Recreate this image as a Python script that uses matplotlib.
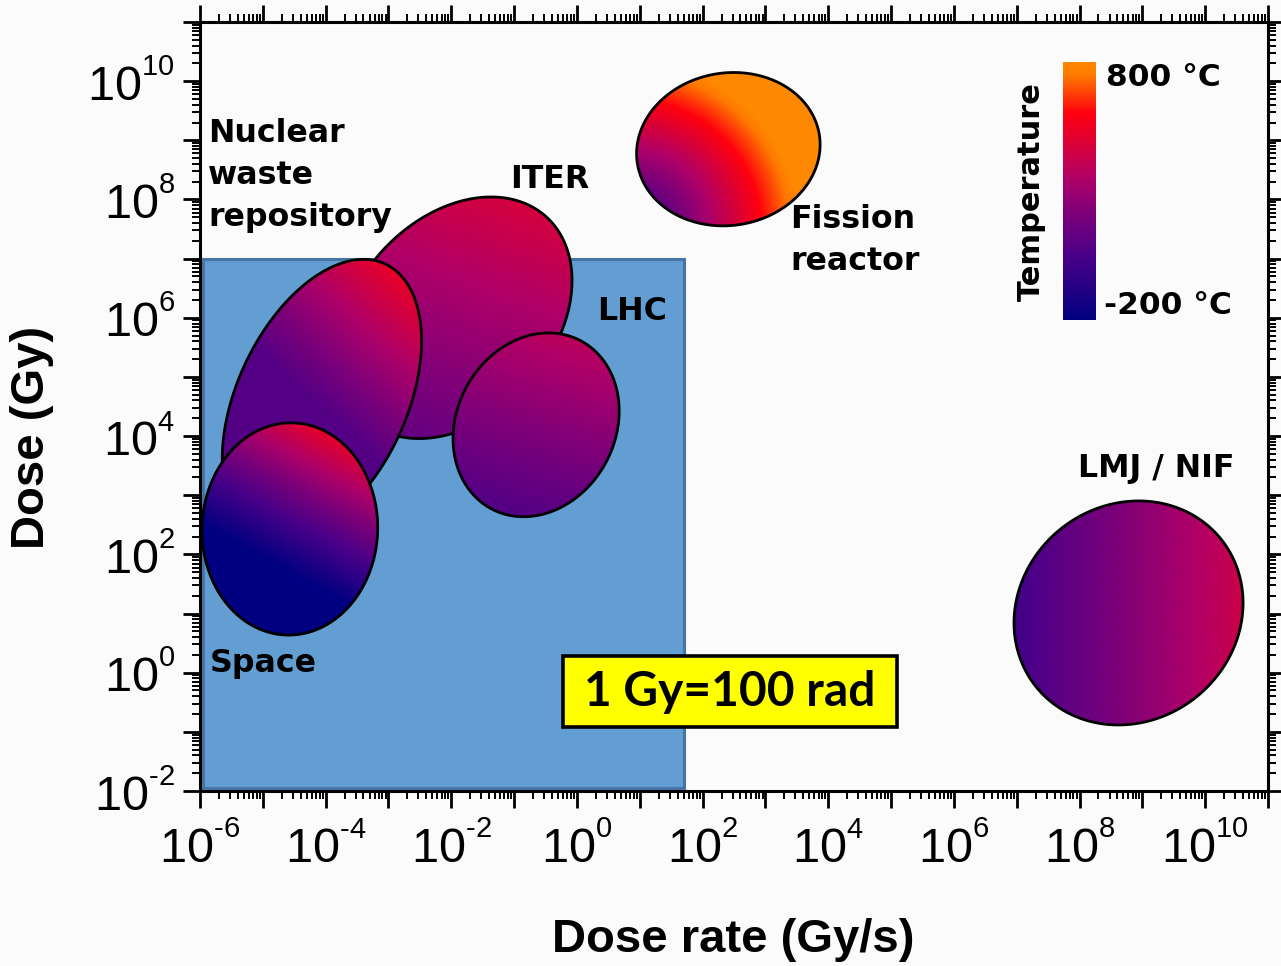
import numpy as np
import matplotlib
matplotlib.use("Agg")
import matplotlib.pyplot as plt
from matplotlib.colors import LinearSegmentedColormap, Normalize
from matplotlib.patches import Polygon, Rectangle
from matplotlib.ticker import FixedLocator, NullFormatter
import matplotlib.cm as cm

try:
    import matplotlib._mathtext as _mt
    _mt.SHRINK_FACTOR = 0.6
    _classes = [_mt.FontConstantsBase] + list(getattr(_mt, "_font_constant_mapping", {}).values())
    for _c in _classes:
        _c.sup1 = 0.95
except Exception:
    pass

# ---------------- data ----------------
facilities = ["ITER", "Nuclear waste repository", "LHC", "Space", "Fission reactor", "LMJ / NIF"]
log_rate_center = [-1.94, -4.06, -0.65, -4.57, 2.41, 8.78]   # log10 dose rate (Gy/s)
log_dose_center = [6.00, 4.61, 4.19, 2.43, 8.85, 1.01]       # log10 dose (Gy)
semi_major_dec = [2.23, 2.46, 1.56, 1.74, 1.51, 1.94]        # decades
semi_minor_dec = [1.62, 1.39, 1.30, 1.44, 1.25, 1.77]        # decades
tilt_deg = [48, 65, 62, 88, 9, 38]

shaded_rate = [1e-6, 50.0]
shaded_dose = [1e-2, 1e7]

temp_range = [-200, 800]
x_decades = [-6, -4, -2, 0, 2, 4, 6, 8, 10]
y_decades = [-2, 0, 2, 4, 6, 8, 10]

# --------------- styles ----------------
cmap = LinearSegmentedColormap.from_list("temp", [
    (0.00, "#000080"), (0.25, "#4a0088"), (0.42, "#800078"), (0.55, "#b00068"),
    (0.66, "#d20040"), (0.80, "#ff0010"), (0.95, "#ff7a00"), (1.00, "#ff8800")])

# gradient: t = t0 + gx*dx + gy*dy + gr*|p - focus|, clipped to [tmin, 1]
grad = [
    dict(t0=0.50, gx=0.00045, gy=0.0012, gr=0.0, f=(0, 0), tmin=0.0),   # ITER
    dict(t0=0.30, gx=0.0020, gy=0.0022, gr=0.0, f=(0, 0), tmin=0.28),   # Nuclear
    dict(t0=0.43, gx=0.0005, gy=0.0016, gr=0.0, f=(0, 0), tmin=0.0),    # LHC
    dict(t0=0.20, gx=0.0025, gy=0.0045, gr=0.0, f=(0, 0), tmin=0.0),    # Space
    dict(t0=0.12, gx=0.0, gy=0.0, gr=0.0052, f=(-98, -81), tmin=0.0),   # Fission
    dict(t0=0.43, gx=0.0018, gy=0.0, gr=0.0, f=(0, 0), tmin=0.0),       # LMJ
]
zorders = [2, 3, 3, 4, 3, 3]

W, H = 1281, 966
fig = plt.figure(figsize=(W / 100, H / 100), dpi=100, facecolor="#fbfbfb")
L, R, T, B = 200, 1268, 22, 791
ax = fig.add_axes([L / W, 1 - B / H, (R - L) / W, (B - T) / H])
ax.set_facecolor("#fbfbfb")
ax.set_xscale("log")
ax.set_yscale("log")
ax.set_xlim(1e-6, 1e11)
ax.set_ylim(1e-2, 1e11)

xpx = (R - L) / 17.0
ypx = (B - T) / 13.0
UNIT = 61.0  # px per decade used for the isotropic ellipse sizes

# shaded blue region
rect = Rectangle((shaded_rate[0] * 10 ** 0.05, shaded_dose[0] * 10 ** 0.05),
                 shaded_rate[1] - shaded_rate[0] * 10 ** 0.05,
                 shaded_dose[1] - shaded_dose[0] * 10 ** 0.05,
                 facecolor="#629ed2", edgecolor="#4676a6", lw=2.2, zorder=1)
ax.add_patch(rect)

tt = np.linspace(0, 2 * np.pi, 500)
for i in range(len(facilities)):
    cx, cy = log_rate_center[i], log_dose_center[i]
    a, b = semi_major_dec[i] * UNIT, semi_minor_dec[i] * UNIT
    th = np.deg2rad(tilt_deg[i])
    ox = a * np.cos(tt) * np.cos(th) - b * np.sin(tt) * np.sin(th)
    oy = a * np.cos(tt) * np.sin(th) + b * np.sin(tt) * np.cos(th)
    px_ = 10 ** (cx + ox / xpx)
    py_ = 10 ** (cy + oy / ypx)
    poly = Polygon(np.column_stack([px_, py_]), closed=True, facecolor="none",
                   edgecolor="black", lw=2.0, zorder=zorders[i] + 0.5)
    ax.add_patch(poly)
    ext = max(a, b) + 5
    gxs = np.linspace(-ext, ext, 240)
    gys = np.linspace(-ext, ext, 240)
    DX, DY = np.meshgrid(gxs, gys)
    g = grad[i]
    tval = g["t0"] + g["gx"] * DX + g["gy"] * DY + g["gr"] * np.hypot(DX - g["f"][0], DY - g["f"][1])
    tval = np.clip(tval, g["tmin"], 1.0)
    Xd = 10 ** (cx + gxs / xpx)
    Yd = 10 ** (cy + gys / ypx)
    mesh = ax.pcolormesh(Xd, Yd, tval, cmap=cmap, vmin=0, vmax=1, shading="gouraud",
                         zorder=zorders[i], rasterized=True)
    mesh.set_clip_path(poly)

# ticks
ax.xaxis.set_major_locator(FixedLocator([10.0 ** k for k in range(-6, 12)]))
ax.yaxis.set_major_locator(FixedLocator([10.0 ** k for k in range(-2, 12)]))
minor_x = [m * 10.0 ** k for k in range(-6, 11) for m in range(2, 10)]
minor_y = [m * 10.0 ** k for k in range(-2, 11) for m in range(2, 10)]
ax.xaxis.set_minor_locator(FixedLocator(minor_x))
ax.yaxis.set_minor_locator(FixedLocator(minor_y))
ax.xaxis.set_minor_formatter(NullFormatter())
ax.yaxis.set_minor_formatter(NullFormatter())

def fmt_labels(all_dec, shown):
    out = []
    for k in all_dec:
        if k in shown:
            e = str(k).replace("-", "\u2010")
            out.append(r"$\mathregular{10^{%s}}$" % e)
        else:
            out.append("")
    return out

ax.set_xticklabels(fmt_labels(range(-6, 12), x_decades))
ax.set_yticklabels(fmt_labels(range(-2, 12), y_decades))

for lab in ax.get_xticklabels() + ax.get_yticklabels():
    lab.set_fontfamily("Liberation Sans")
    lab.set_fontsize(35)

ax.tick_params(which="major", direction="out", length=12, width=2.0, top=True, right=True,
               labelsize=35, pad=6)
ax.tick_params(axis="x", which="major", pad=12)
ax.tick_params(which="minor", direction="out", length=6, width=1.4, top=True, right=True)
for s in ax.spines.values():
    s.set_linewidth(2.2)
    s.set_zorder(10)

ax.set_xlabel("Dose rate (Gy/s)", fontsize=34, fontweight="bold", family="Liberation Sans")
ax.set_ylabel("Dose (Gy)", fontsize=34, fontweight="bold", family="Liberation Sans")
ax.xaxis.set_label_coords((733 - L) / (R - L), (B - 918) / (B - T))
ax.yaxis.set_label_coords((54 - L) / (R - L), (B - 437) / (B - T))

lab_kw = dict(fontsize=22.8, fontweight="bold", family="DejaVu Sans", color="black", zorder=12)
ax.text(10 ** -5.87, 10 ** 8.40, "Nuclear\nwaste\nrepository", ha="left", va="center",
        linespacing=1.45, **lab_kw)
ax.text(10 ** -1.06, 10 ** 8.33, "ITER", ha="left", va="center", **lab_kw)
ax.text(10 ** 0.32, 10 ** 6.11, "LHC", ha="left", va="center", **lab_kw)
ax.text(10 ** 3.39, 10 ** 7.30, "Fission\nreactor", ha="left", va="center", linespacing=1.45, **lab_kw)
ax.text(10 ** 7.98, 10 ** 3.46, "LMJ / NIF", ha="left", va="center", **lab_kw)
ax.text(10 ** -5.84, 10 ** 0.15, "Space", ha="left", va="center", **lab_kw)

# conversion note box
ax.add_patch(Rectangle(((563 - L) / (R - L), (B - 727) / (B - T)), 334 / (R - L), 71 / (B - T),
                       transform=ax.transAxes, facecolor="#ffff00", edgecolor="black",
                       lw=2.6, zorder=11))
ax.text((730 - L) / (R - L), (B - 692) / (B - T), "1 Gy=100 rad", ha="center", va="center",
        fontsize=34.5, fontweight="bold", family="Lato", zorder=12, transform=ax.transAxes)

# colorbar
cax = fig.add_axes([1063 / W, 1 - 320 / H, 33 / W, 258 / H])
sm = cm.ScalarMappable(norm=Normalize(*temp_range), cmap=cmap)
cb = fig.colorbar(sm, cax=cax, ticks=[])
cb.outline.set_visible(False)
fig.text(1106 / W, 1 - 77 / H, "800 \u00b0C", ha="left", va="center", fontsize=22.5,
         fontweight="bold", family="DejaVu Sans")
fig.text(1104 / W, 1 - 305 / H, "-200 \u00b0C", ha="left", va="center", fontsize=22.5,
         fontweight="bold", family="DejaVu Sans")
fig.text(1031 / W, 1 - 192 / H, "Temperature", ha="center", va="center", rotation=90,
         fontsize=22, fontweight="bold", family="DejaVu Sans")

fig.savefig("out.png", dpi=100, facecolor=fig.get_facecolor())
